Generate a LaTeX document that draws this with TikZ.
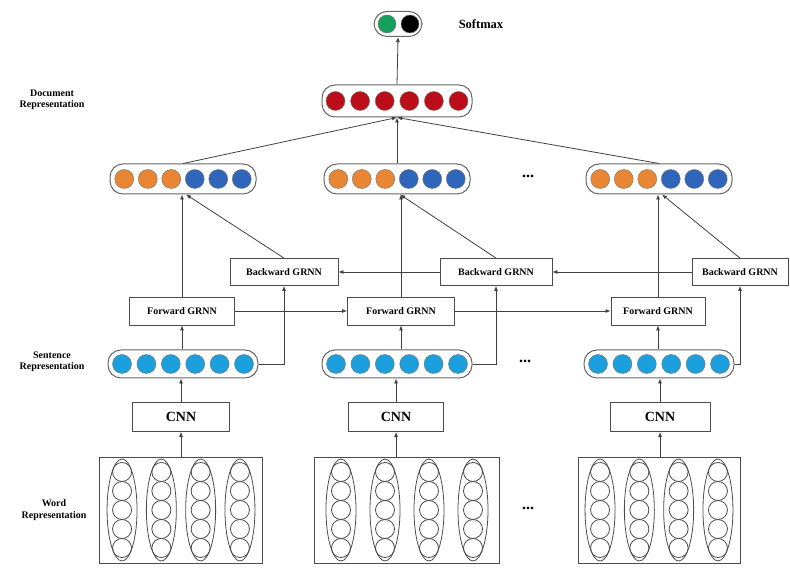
\documentclass[tikz,border=0pt]{standalone}
\usepackage{fontspec}
\setmainfont{Liberation Serif}
\usepackage{tikz}
\usetikzlibrary{positioning,calc,arrows.meta,shapes.geometric}

\definecolor{unitorange}{RGB}{232,134,52}
\definecolor{unitblue}{RGB}{47,101,186}
\definecolor{unitcyan}{RGB}{27,160,221}
\definecolor{unitred}{RGB}{188,14,24}
\definecolor{unitgreen}{RGB}{22,160,92}

\begin{document}
\begin{tikzpicture}[x=1pt,y=1pt,
			capsule/.style={rectangle, rounded corners=13pt, draw=black!60, line width=1pt, inner sep=0, minimum height=30pt},
			unit/.style={circle, draw=black!55, inner sep=0, minimum size=19pt},
			framed/.style={rectangle, draw=black!70, line width=0.8pt, inner sep=1, font=\fontsize{10}{11}\selectfont\bfseries},
			plain/.style={inner sep=0, align=center, font=\fontsize{10}{11.5}\selectfont\bfseries},
			word/.style={ellipse, draw=black!70, line width=0.8pt, minimum width=30pt, minimum height=102pt, inner sep=0},
			cell/.style={circle, draw=black!70, line width=0.8pt, inner sep=0, minimum size=19pt},
			arrow/.style={line width=0.8pt, draw=black!75, -{Latex[length=5pt,width=4pt]}}]
			
			\useasboundingbox (0,0) rectangle (790,581);
			
			\node[capsule, minimum width=48pt, minimum height=25pt] (soft) at (398,557) {};
			\node[unit, fill=unitgreen, minimum size=18pt] (soft-0) at (387,557) {};
			\node[unit, fill=black, minimum size=18pt] (soft-1) at (410,557) {};
			\node[plain, font=\fontsize{12.5}{13}\selectfont\bfseries] (softlabel) at (481,557) {Softmax};
			
			\node[capsule, minimum width=150pt, minimum height=32pt] (doc) at (397,480) {};
			\foreach \k in {0,...,5}
				\node[unit, fill=unitred] (doc-\k) at ($(doc)+(-61.5+24.6*\k,0)$) {};
			\node[plain] (doclabel) at (52,481) {Document\\Representation};
			
			\foreach \i/\x in {1/183,2/397,3/659} {
				\node[capsule, minimum width=146pt] (ctx\i) at (\x,402) {};
				\foreach \k/\c in {0/unitorange,1/unitorange,2/unitorange,3/unitblue,4/unitblue,5/unitblue}
					\node[unit, fill=\c] (ctx\i-\k) at ($(ctx\i)+(-58.75+23.5*\k,0)$) {};
				\node[capsule, minimum width=150pt, minimum height=28pt] (sent\i) at (\x,217) {};
				\foreach \k in {0,...,5}
					\node[unit, fill=unitcyan] (sent\i-\k) at ($(sent\i)+(-61+24.4*\k,0)$) {};
			}
			\node[plain] (sentlabel) at (52,219) {Sentence\\Representation};
			
			\node[framed, minimum width=108pt, minimum height=27pt] (bwd1) at (284,309) {Backward GRNN};
			\node[framed, minimum width=112pt, minimum height=27pt] (bwd2) at (496,309) {Backward GRNN};
			\node[framed, minimum width=96pt, minimum height=27pt] (bwd3) at (740,309) {Backward GRNN};
			
			\node[framed, minimum width=105pt, minimum height=28pt] (fwd1) at (182,270) {Forward GRNN};
			\node[framed, minimum width=107pt, minimum height=28pt] (fwd2) at (401,270) {Forward GRNN};
			\node[framed, minimum width=94pt, minimum height=28pt] (fwd3) at (658,270) {Forward GRNN};
			
			\node[framed, minimum width=97pt, minimum height=29pt, font=\fontsize{14}{15}\selectfont\bfseries] (cnn1) at (181,164) {CNN};
			\node[framed, minimum width=95pt, minimum height=29pt, font=\fontsize{14}{15}\selectfont\bfseries] (cnn2) at (396,164) {CNN};
			\node[framed, minimum width=100pt, minimum height=29pt, font=\fontsize{14}{15}\selectfont\bfseries] (cnn3) at (660,164) {CNN};
			
			\foreach \i/\x/\w/\s in {1/181/163/39.3,2/407/185/44,3/659/162/39.3} {
				\node[framed, minimum width=\w pt, minimum height=106pt] (wrd\i) at (\x,71) {};
				\foreach \j in {0,...,3} {
					\node[word] (wrd\i-\j) at ($(wrd\i)+(-1.5*\s+\s*\j,0)$) {};
					\foreach \m in {0,...,4}
						\node[cell] (wrd\i-\j-\m) at ($(wrd\i-\j)+(0,-38+19*\m)$) {};
				}
			}
			\node[plain] (wordlabel) at (54,71) {Word\\Representation};
			
			\node[plain, font=\fontsize{16}{16}\selectfont\bfseries] (dots1) at (528,405) {...};
			\node[plain, font=\fontsize{16}{16}\selectfont\bfseries] (dots2) at (525,220) {...};
			\node[plain, font=\fontsize{16}{16}\selectfont\bfseries] (dots3) at (528,73) {...};
			
			\foreach \i in {1,2,3} {
				\draw[arrow] (cnn\i.south |- wrd\i.north) -- (cnn\i.south);
				\draw[arrow] (cnn\i.north) -- (cnn\i.north |- sent\i.south);
				\draw[arrow] (fwd\i.south |- sent\i.north) -- (fwd\i.south);
				\draw[arrow] (sent\i.east) -| (bwd\i.south);
				\draw[arrow] (fwd\i.north) -- (fwd\i.north |- ctx\i.south);
				\draw[arrow] (bwd\i.north) -- ($(ctx\i.south)+(3,0)$);
				\draw[arrow] (ctx\i.north) -- (doc.south);
			}
			\draw[arrow] (fwd1.east) -- (fwd2.west);
			\draw[arrow] (fwd2.east) -- (fwd3.west);
			\draw[arrow] (bwd2.west) -- (bwd1.east);
			\draw[arrow] (bwd3.west) -- (bwd2.east);
			\draw[arrow] (doc.north) -- (soft.south);
		\end{tikzpicture}
\end{document}
